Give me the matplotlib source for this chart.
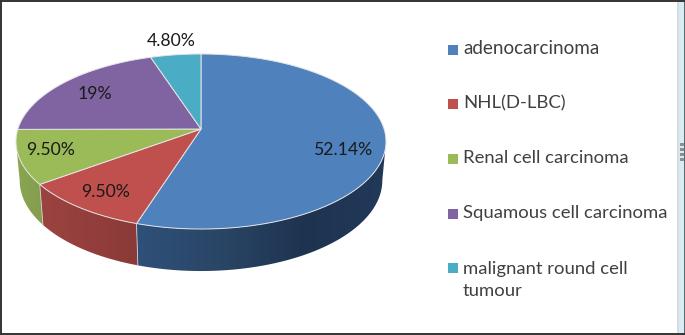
import numpy as np
import matplotlib
matplotlib.use('Agg')
import matplotlib.pyplot as plt
from matplotlib.colors import LinearSegmentedColormap
from matplotlib.patches import Polygon, Rectangle

labels = ['adenocarcinoma', 'NHL(D-LBC)', 'Renal cell carcinoma',
          'Squamous cell carcinoma', 'malignant round cell\ntumour']
values = [52.14, 9.5, 9.5, 19, 4.8]
value_text = ['52.14%', '9.50%', '9.50%', '19%', '4.80%']
colors = ['#4f81bd', '#c0504d', '#9bbb59', '#8064a2', '#4bacc6']
# colours along the side wall, left to right
side_colors = [['#2f5079', '#2a4666', '#1e3350', '#23395a'],
               ['#9c4341', '#8a3a38'],
               ['#8aa552', '#849e4e'],
               ['#8064a2', '#8064a2'],
               ['#4bacc6', '#4bacc6']]

plt.rcParams['font.family'] = ['Lato', 'DejaVu Sans']

# pixel coordinates of the pie, a tilted circle in perspective
cx, apex_y = 201, 129
k = -0.1429
A, B = 183.1, 67.3

label_pos = [(344, 150), (106, 192), (51, 150), (95, 94), (171, 41)]
legend_y = [50, 104, 159, 214, 268]

fig = plt.figure(figsize=(6.85, 3.35), dpi=100)
ax = fig.add_axes([0, 0, 1, 1])
ax.axis('off')


def top_rim(t):
    X, Y = np.sin(t), -np.cos(t)
    d = 1 + k * Y
    return cx + A * X / d, (apex_y + B * Y) / d


def bottom_rim(t):
    x, y = top_rim(t)
    return cx + (x - cx) * 0.98, y + 39 + (y - 141) / 88 * 3


fracs = np.array(values) / sum(values)
edges = np.concatenate([[0], np.cumsum(fracs)]) * 2 * np.pi
t_right = np.arccos(k)
t_left = 2 * np.pi - t_right

# side wall
for i in range(len(values)):
    t0, t1 = max(edges[i], t_right), min(edges[i + 1], t_left)
    if t1 <= t0:
        continue
    ts = np.linspace(t0, t1, 150)
    xt, yt = top_rim(ts)
    xb, yb = bottom_rim(ts[::-1])
    poly = Polygon(np.c_[np.r_[xt, xb], np.r_[yt, yb]], closed=True,
                   transform=ax.transData, lw=0, fill=False)
    ax.add_patch(poly)
    cm = LinearSegmentedColormap.from_list('side', side_colors[i])
    x0, x1 = min(xt.min(), xb.min()), max(xt.max(), xb.max())
    im = ax.imshow(np.linspace(0, 1, 256)[None, :], cmap=cm, aspect='auto',
                   extent=(x0, x1, 300, 0), interpolation='bilinear')
    im.set_clip_path(poly)
    if edges[i + 1] < t_left:
        xa, ya = top_rim(t1)
        xc, yc = bottom_rim(t1)
        ax.plot([xa, xc], [ya, yc], color='#d0d0d0', lw=0.6)

ax.set_xlim(0, 685)
ax.set_ylim(335, 0)

# top wedges
for i in range(len(values)):
    ts = np.linspace(edges[i], edges[i + 1], 120)
    x, y = top_rim(ts)
    ax.fill(np.r_[cx, x], np.r_[apex_y, y], facecolor=colors[i],
            edgecolor='#e4e4e4', lw=0.7)

for (x, y), txt in zip(label_pos, value_text):
    ax.text(x, y, txt, fontsize=12.7, color='#1a1a1a', ha='center', va='center')

# legend
for y, lab, col in zip(legend_y, labels, colors):
    ax.add_patch(Rectangle((448, y - 5), 10, 10, facecolor=col, lw=0))
    two_lines = '\n' in lab
    size = 13.6 if lab == 'adenocarcinoma' else 13.3
    ax.text(463, y + 12 if two_lines else y - 1, lab, fontsize=size,
            color='#404040', ha='left', va='center', linespacing=1.45)

# frame and the window edge right of it
ax.add_patch(Rectangle((677, 0), 2, 335, facecolor='#d9d9e2', lw=0))
ax.add_patch(Rectangle((679, 0), 5, 335, facecolor='#d6eef1', lw=0))
ax.add_patch(Rectangle((684, 0), 1, 335, facecolor='#5a6a70', lw=0))
for y in [143, 148, 153, 158]:
    ax.add_patch(Rectangle((680, y), 4, 2.5, facecolor='#8a8f95', lw=0))
ax.plot([0, 685], [1, 1], color='#333333', lw=1.4)
ax.plot([0, 685], [333.5, 333.5], color='#333333', lw=1.4)
ax.plot([1, 1], [0, 335], color='#333333', lw=1.4)

fig.savefig('out.png', dpi=100)
